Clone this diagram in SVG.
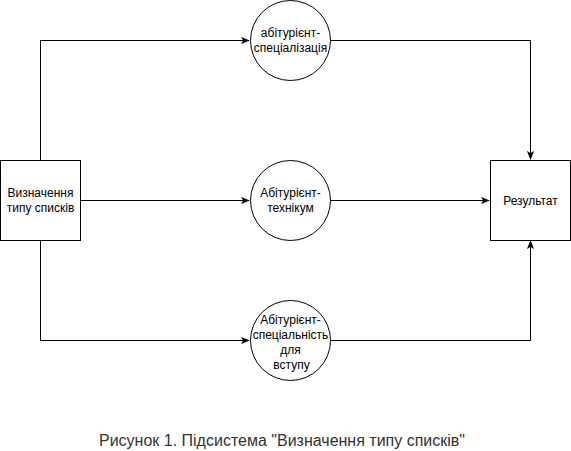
<svg xmlns="http://www.w3.org/2000/svg" width="571" height="451" viewBox="0 0 571 451">
<style>
.box{fill:#fff;stroke:#000;stroke-width:1}
.t{font-family:"Liberation Sans",Arial,sans-serif;font-size:12px;fill:#000;text-anchor:middle}
.cap{font-family:"Liberation Sans",Arial,sans-serif;font-size:16px;fill:#333;text-anchor:middle}
.c{fill:none;stroke:#000;stroke-width:1}
</style>
<defs>
<marker id="arr" viewBox="0 0 10 10" refX="9" refY="5" markerWidth="9" markerHeight="9" markerUnits="userSpaceOnUse" orient="auto">
<path d="M0,1 L10,5 L0,9 L2.5,5 z" fill="#000"/>
</marker>
</defs>
<rect width="571" height="451" fill="#fff"/>
<g id="connectors">
<path class="c" d="M40.5,160 V40.5 H249" marker-end="url(#arr)"/>
<path class="c" d="M80,200.5 H249" marker-end="url(#arr)"/>
<path class="c" d="M40.5,240 V340.5 H249" marker-end="url(#arr)"/>
<path class="c" d="M330,40.5 H530.5 V159" marker-end="url(#arr)"/>
<path class="c" d="M330,200.5 H489" marker-end="url(#arr)"/>
<path class="c" d="M330,340.5 H530.5 V241" marker-end="url(#arr)"/>
</g>
<g id="n_source">
<rect class="box" x="0.5" y="160.5" width="80" height="80"/>
<text class="t" x="40.5" y="197">Визначення</text>
<text class="t" x="40.5" y="212">типу списків</text>
</g>
<g id="n_spec">
<circle class="box" cx="290.5" cy="40.5" r="40"/>
<text class="t" x="290.5" y="37">абітурієнт-</text>
<text class="t" x="290.5" y="52">спеціалізація</text>
</g>
<g id="n_tech">
<circle class="box" cx="290.5" cy="200.5" r="40"/>
<text class="t" x="290.5" y="197">Абітурієнт-</text>
<text class="t" x="290.5" y="212">технікум</text>
</g>
<g id="n_speciality">
<circle class="box" cx="290.5" cy="340.5" r="40"/>
<text class="t" x="290.5" y="323.5">Абітурієнт-</text>
<text class="t" x="290.5" y="338.5">спеціальність</text>
<text class="t" x="290.5" y="353.5">для</text>
<text class="t" x="291.5" y="368.5">вступу</text>
</g>
<g id="n_result">
<rect class="box" x="490.5" y="160.5" width="80" height="80"/>
<text class="t" x="530.5" y="205">Результат</text>
</g>
<text class="cap" x="282" y="446">Рисунок 1. Підсистема "Визначення типу списків"</text>
</svg>
